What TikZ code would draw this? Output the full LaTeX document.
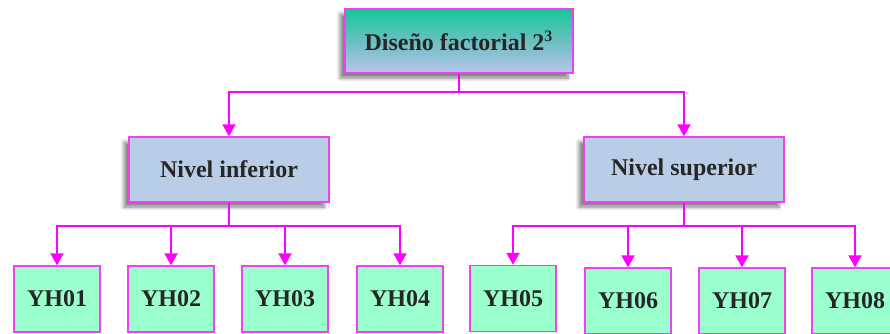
\documentclass[tikz,border=0pt]{standalone}
\usepackage{fontspec}
\setmainfont{Liberation Serif}
\usetikzlibrary{arrows.meta,shadows.blur}
\definecolor{mag}{HTML}{FF00FF}
\definecolor{edge}{HTML}{F040F0}
\definecolor{levelfill}{HTML}{B9CDE6}
\definecolor{leaffill}{HTML}{9BFFCD}
\definecolor{topA}{HTML}{14C89B}
\definecolor{topB}{HTML}{6ABFC0}
\definecolor{topC}{HTML}{BAC4EA}
\definecolor{ink}{HTML}{262626}
\tikzset{
  box/.style={draw=edge, line width=0.7pt, text=ink, inner sep=0pt,
    font=\fontsize{12}{14}\selectfont\bfseries},
  shadowed/.style={blur shadow={shadow xshift=-2.5pt, shadow yshift=-2.5pt,
    shadow blur steps=6, shadow opacity=50}},
  rootbox/.style={box, shadowed, minimum width=114pt, minimum height=32pt,
    top color=topA, bottom color=topC, middle color=topB},
  levelbox/.style={box, shadowed, fill=levelfill, minimum width=100pt, minimum height=32.5pt},
  leafbox/.style={box, fill=leaffill, minimum width=43pt, minimum height=33pt},
  link/.style={draw=mag, line width=1pt},
  arrowlink/.style={link, -{Triangle[length=6pt,width=6.5pt]}},
}
\begin{document}
\begin{tikzpicture}[x=0.5pt,y=-0.5pt]
\useasboundingbox (0,0) rectangle (890,333);
\clip (0,0) rectangle (890,333);

% root and the two levels
\node[rootbox] (root) at (459,41) {Diseño factorial 2\textsuperscript{3}};
\node[levelbox] (inf) at (229,169.5) {Nivel inferior};
\node[levelbox] (sup) at (684,169.5) {Nivel superior};

% leaves
\node[leafbox] (y1) at (57,299) {YH01};
\node[leafbox] (y2) at (171,299) {YH02};
\node[leafbox] (y3) at (285,299) {YH03};
\node[leafbox] (y4) at (400,299) {YH04};
\node[leafbox] (y5) at (513,298.5) {YH05};
\node[leafbox] (y6) at (628,301) {YH06};
\node[leafbox] (y7) at (742,301) {YH07};
\node[leafbox] (y8) at (855,301) {YH08};

% branch points
\coordinate (j0) at (459,92);
\coordinate (j1) at (229,226);
\coordinate (j2) at (684,226);

% connectors
\draw[link] (root.south) -- (j0);
\draw[arrowlink] (j0) -| (inf.north);
\draw[arrowlink] (j0) -| (sup.north);

\draw[link] (inf.south) -- (j1);
\foreach \n in {y1,y2,y3,y4} \draw[arrowlink] (j1) -| (\n.north);

\draw[link] (sup.south) -- (j2);
\foreach \n in {y5,y6,y7,y8} \draw[arrowlink] (j2) -| (\n.north);
\end{tikzpicture}
\end{document}
